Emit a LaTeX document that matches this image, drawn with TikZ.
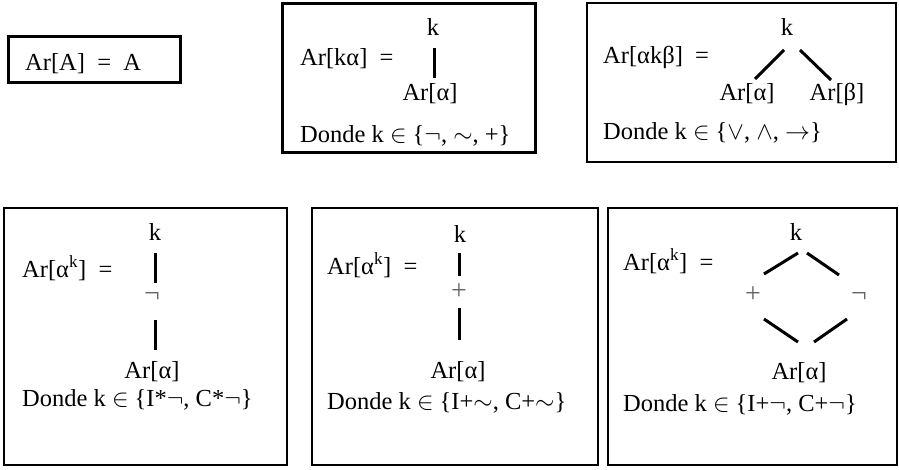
\documentclass[tikz,border=0pt]{standalone}
\usepackage{fontspec}
\setmainfont{Liberation Serif}
\begin{document}
\begin{tikzpicture}[x=1pt,y=-1pt]
\tikzset{
 frame/.style={draw, line width=2.2pt},
 txt/.style={inner sep=0pt, font=\fontsize{24.5}{28}\selectfont},
 lt/.style={txt, anchor=base west},
 ct/.style={txt, anchor=base},
 bar/.style={line width=3pt},
 small/.style={inner sep=0pt, font=\fontsize{28}{30}\selectfont, text=black!60},
}
\useasboundingbox (0,0) rectangle (899,469);
% frames
\draw[frame, line width=3pt] (8,36) rectangle (180,82);
\draw[frame, line width=3pt] (282,3) rectangle (535,152);
\draw[frame] (587,3) rectangle (896,162);
\draw[frame] (4,208) rectangle (287,465);
\draw[frame] (312,208) rectangle (598,465);
\draw[frame] (608,208) rectangle (897,465);
% box 1
\node[lt] (t1) at (25,70) {Ar[A]\ \ =\ \ A};
% box 2
\node[lt] (t2) at (300,65) {Ar[kα]\ \ =};
\node[ct] (k2) at (433,35) {k};
\node[ct] (a2) at (430,100) {Ar[α]};
\coordinate (k2b) at (434,48);
\coordinate (a2t) at (434,78);
\draw[bar] (k2b) -- (a2t);
\node[lt] (d2) at (300,142) {Donde k $\in$ \{$\neg$, $\sim$, +\}};
% box 3
\node[lt] (t3) at (603,63) {Ar[αkβ]\ \ =};
\node[ct] (k3) at (787,35) {k};
\node[ct] (a3) at (747,100) {Ar[α]};
\node[ct] (b3) at (837,100) {Ar[β]};
\coordinate (k3l) at (784,50);
\coordinate (a3t) at (755,79);
\coordinate (k3r) at (800,50);
\coordinate (b3t) at (831,80);
\draw[bar] (k3l) -- (a3t);
\draw[bar] (k3r) -- (b3t);
\node[lt] (d3) at (603,139) {Donde k $\in$ \{$\vee$, $\wedge$, $\rightarrow$\}};
% box 4
\node[lt] (t4) at (22,277) {Ar[α\textsuperscript{k}]\ \ =};
\node[ct] (k4) at (155,240) {k};
\node[small] (n4) at (152,297) {¬};
\node[ct] (a4) at (152,378) {Ar[α]};
\coordinate (k4b) at (155,253);
\coordinate (n4t) at (155,283);
\coordinate (n4b) at (155,320);
\coordinate (a4t) at (155,350);
\draw[bar] (k4b) -- (n4t);
\draw[bar] (n4b) -- (a4t);
\node[lt] (d4) at (22,406) {Donde k $\in$ \{I*$\neg$, C*$\neg$\}};
% box 5
\node[lt] (t5) at (327,274) {Ar[α\textsuperscript{k}]\ \ =};
\node[ct] (k5) at (460,242) {k};
\node[small] (p5) at (459,292) {+};
\node[ct] (a5) at (458,378) {Ar[α]};
\coordinate (k5b) at (459,253);
\coordinate (p5t) at (459,276);
\coordinate (p5b) at (459,308);
\coordinate (a5t) at (459,340);
\draw[bar] (k5b) -- (p5t);
\draw[bar] (p5b) -- (a5t);
\node[lt] (d5) at (327,409) {Donde k $\in$ \{I+$\sim$, C+$\sim$\}};
% box 6
\node[lt] (t6) at (623,270) {Ar[α\textsuperscript{k}]\ \ =};
\node[ct] (k6) at (796,240) {k};
\node[small] (p6) at (753,295) {+};
\node[small] (n6) at (859,297) {¬};
\node[ct] (a6) at (799,379) {Ar[α]};
\coordinate (k6l) at (798,253);
\coordinate (p6t) at (764,274);
\coordinate (k6r) at (807,253);
\coordinate (n6t) at (839,275);
\coordinate (p6b) at (764,319);
\coordinate (a6l) at (798,342);
\coordinate (n6b) at (847,319);
\coordinate (a6r) at (814,342);
\draw[bar] (k6l) -- (p6t);
\draw[bar] (k6r) -- (n6t);
\draw[bar] (p6b) -- (a6l);
\draw[bar] (n6b) -- (a6r);
\node[lt] (d6) at (623,411) {Donde k $\in$ \{I+$\neg$, C+$\neg$\}};
\end{tikzpicture}
\end{document}
